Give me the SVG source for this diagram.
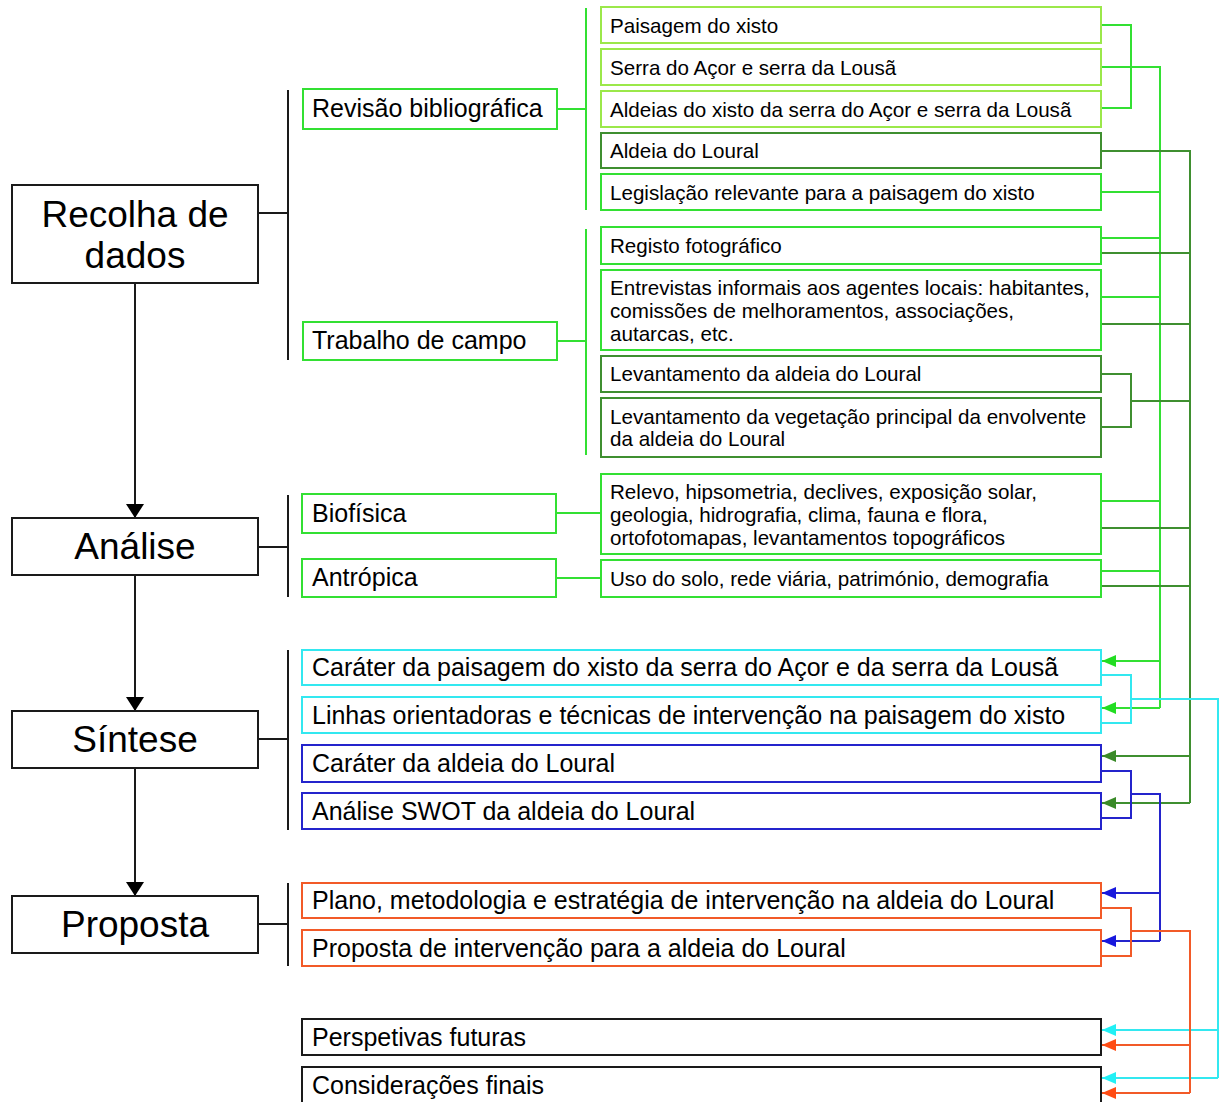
<svg xmlns="http://www.w3.org/2000/svg" width="1220" height="1102" viewBox="0 0 1220 1102">
<style>
text{font-family:"Liberation Sans",Arial,sans-serif;fill:#000}
.big{font-size:37px;text-anchor:middle}
.mid{font-size:25px}
.sm{font-size:20.6px}
rect{fill:#fff;stroke-width:2}
.k{stroke:#1a1a1a}
.lg{stroke:#9be84a}
.g{stroke:#33e033}
.dg{stroke:#3f8f30}
.c{stroke:#33e8f0}
.b{stroke:#2424cc}
.o{stroke:#f25a28}
#connectors path,#connectors line{fill:none;stroke-width:2}
</style>
<defs>
<marker id="ak" viewBox="0 0 14 18" refX="14" refY="9" markerWidth="14" markerHeight="18" markerUnits="userSpaceOnUse" orient="auto"><path d="M0,0L14,9L0,18z" fill="#000"/></marker>
<marker id="ag" viewBox="0 0 14 12" refX="14" refY="6" markerWidth="14" markerHeight="12" markerUnits="userSpaceOnUse" orient="auto"><path d="M0,0L14,6L0,12z" fill="#22dd22"/></marker>
<marker id="adg" viewBox="0 0 14 12" refX="14" refY="6" markerWidth="14" markerHeight="12" markerUnits="userSpaceOnUse" orient="auto"><path d="M0,0L14,6L0,12z" fill="#3a8a28"/></marker>
<marker id="ac" viewBox="0 0 14 12" refX="14" refY="6" markerWidth="14" markerHeight="12" markerUnits="userSpaceOnUse" orient="auto"><path d="M0,0L14,6L0,12z" fill="#22f0f5"/></marker>
<marker id="ab" viewBox="0 0 14 12" refX="14" refY="6" markerWidth="14" markerHeight="12" markerUnits="userSpaceOnUse" orient="auto"><path d="M0,0L14,6L0,12z" fill="#1818dd"/></marker>
<marker id="ao" viewBox="0 0 14 12" refX="14" refY="6" markerWidth="14" markerHeight="12" markerUnits="userSpaceOnUse" orient="auto"><path d="M0,0L14,6L0,12z" fill="#ff4c14"/></marker>
</defs>

<g id="connectors">
<line class="k" x1="135" y1="283" x2="135" y2="518" marker-end="url(#ak)"/>
<line class="k" x1="135" y1="575" x2="135" y2="711" marker-end="url(#ak)"/>
<line class="k" x1="135" y1="768" x2="135" y2="896" marker-end="url(#ak)"/>
<line class="k" x1="258" y1="213" x2="288" y2="213"/>
<line class="k" x1="288" y1="90" x2="288" y2="360"/>
<line class="k" x1="258" y1="547" x2="288" y2="547"/>
<line class="k" x1="288" y1="495" x2="288" y2="597"/>
<line class="k" x1="258" y1="739" x2="288" y2="739"/>
<line class="k" x1="288" y1="650" x2="288" y2="830"/>
<line class="k" x1="258" y1="924" x2="288" y2="924"/>
<line class="k" x1="288" y1="883" x2="288" y2="966"/>
<line class="g" x1="557" y1="109" x2="586" y2="109"/>
<line class="g" x1="586" y1="8" x2="586" y2="210"/>
<line class="g" x1="557" y1="341" x2="586" y2="341"/>
<line class="g" x1="586" y1="229" x2="586" y2="455"/>
<line class="g" x1="556" y1="513" x2="601" y2="513"/>
<line class="g" x1="556" y1="578" x2="601" y2="578"/>
<path class="g" d="M1101,25H1131V108H1101"/>
<path class="g" d="M1101,67H1160V708"/>
<path class="g" d="M1101,192H1160M1101,238H1160M1101,297H1160M1101,501H1160M1101,571H1160"/>
<path class="g" d="M1160,661H1102" marker-end="url(#ag)"/>
<path class="g" d="M1160,708H1102" marker-end="url(#ag)"/>
<path class="dg" d="M1101,151H1190V803"/>
<path class="dg" d="M1101,374H1131V427H1101M1131,401H1190"/>
<path class="dg" d="M1101,253H1190M1101,324H1190M1101,528H1190M1101,586H1190"/>
<path class="dg" d="M1190,756H1102" marker-end="url(#adg)"/>
<path class="dg" d="M1190,803H1102" marker-end="url(#adg)"/>
<path class="c" d="M1101,675H1131V723H1101M1131,699H1218V1078"/>
<path class="c" d="M1218,1030H1102" marker-end="url(#ac)"/>
<path class="c" d="M1218,1078H1102" marker-end="url(#ac)"/>
<path class="b" d="M1101,771H1131V818H1101M1131,794H1160V941"/>
<path class="b" d="M1160,893H1102" marker-end="url(#ab)"/>
<path class="b" d="M1160,941H1102" marker-end="url(#ab)"/>
<path class="o" d="M1101,908H1131V956H1101M1131,931H1190V1093"/>
<path class="o" d="M1190,1045H1102" marker-end="url(#ao)"/>
<path class="o" d="M1190,1093H1102" marker-end="url(#ao)"/>
</g>

<g id="n-recolha"><rect class="k" x="12" y="185" width="246" height="98"/><text class="big" x="135" y="227">Recolha de</text><text class="big" x="135" y="268">dados</text></g>
<g id="n-analise"><rect class="k" x="12" y="518" width="246" height="57"/><text class="big" x="135" y="559">Análise</text></g>
<g id="n-sintese"><rect class="k" x="12" y="711" width="246" height="57"/><text class="big" x="135" y="752">Síntese</text></g>
<g id="n-proposta"><rect class="k" x="12" y="896" width="246" height="57"/><text class="big" x="135" y="937">Proposta</text></g>

<g id="n-revisao"><rect class="g" x="303" y="89" width="254" height="40"/><text class="mid" x="312" y="117">Revisão bibliográfica</text></g>
<g id="n-trabalho"><rect class="g" x="303" y="322" width="254" height="38"/><text class="mid" x="312" y="349">Trabalho de campo</text></g>
<g id="n-biofisica"><rect class="g" x="302" y="494" width="254" height="39"/><text class="mid" x="312" y="522">Biofísica</text></g>
<g id="n-antropica"><rect class="g" x="302" y="559" width="254" height="38"/><text class="mid" x="312" y="586">Antrópica</text></g>

<g id="n-paisagem"><rect class="lg" x="601" y="7" width="500" height="36"/><text class="sm" x="610" y="33">Paisagem do xisto</text></g>
<g id="n-serra"><rect class="lg" x="601" y="49" width="500" height="36"/><text class="sm" x="610" y="75">Serra do Açor e serra da Lousã</text></g>
<g id="n-aldeias"><rect class="lg" x="601" y="91" width="500" height="36"/><text class="sm" x="610" y="117">Aldeias do xisto da serra do Açor e serra da Lousã</text></g>
<g id="n-loural"><rect class="dg" x="601" y="133" width="500" height="35"/><text class="sm" x="610" y="158">Aldeia do Loural</text></g>
<g id="n-legislacao"><rect class="g" x="601" y="174" width="500" height="36"/><text class="sm" x="610" y="200">Legislação relevante para a paisagem do xisto</text></g>
<g id="n-registo"><rect class="g" x="601" y="227" width="500" height="37"/><text class="sm" x="610" y="253">Registo fotográfico</text></g>
<g id="n-entrevistas"><rect class="g" x="601" y="270" width="500" height="80"/><text class="sm" x="610" y="295">Entrevistas informais aos agentes locais: habitantes,</text><text class="sm" x="610" y="318">comissões de melhoramentos, associações,</text><text class="sm" x="610" y="341">autarcas, etc.</text></g>
<g id="n-levaldeia"><rect class="dg" x="601" y="356" width="500" height="36"/><text class="sm" x="610" y="381">Levantamento da aldeia do Loural</text></g>
<g id="n-levveg"><rect class="dg" x="601" y="398" width="500" height="59"/><text class="sm" x="610" y="424">Levantamento da vegetação principal da envolvente</text><text class="sm" x="610" y="446">da aldeia do Loural</text></g>
<g id="n-relevo"><rect class="g" x="601" y="474" width="500" height="80"/><text class="sm" x="610" y="499">Relevo, hipsometria, declives, exposição solar,</text><text class="sm" x="610" y="522">geologia, hidrografia, clima, fauna e flora,</text><text class="sm" x="610" y="545">ortofotomapas, levantamentos topográficos</text></g>
<g id="n-uso"><rect class="g" x="601" y="560" width="500" height="37"/><text class="sm" x="610" y="586">Uso do solo, rede viária, património, demografia</text></g>

<g id="n-carpais"><rect class="c" x="302" y="650" width="799" height="35"/><text class="mid" x="312" y="676">Caráter da paisagem do xisto da serra do Açor e da serra da Lousã</text></g>
<g id="n-linhas"><rect class="c" x="302" y="697" width="799" height="36"/><text class="mid" x="312" y="724">Linhas orientadoras e técnicas de intervenção na paisagem do xisto</text></g>
<g id="n-caraldeia"><rect class="b" x="302" y="745" width="799" height="37"/><text class="mid" x="312" y="772">Caráter da aldeia do Loural</text></g>
<g id="n-swot"><rect class="b" x="302" y="793" width="799" height="36"/><text class="mid" x="312" y="820">Análise SWOT da aldeia do Loural</text></g>
<g id="n-plano"><rect class="o" x="302" y="883" width="799" height="35"/><text class="mid" x="312" y="909">Plano, metodologia e estratégia de intervenção na aldeia do Loural</text></g>
<g id="n-propint"><rect class="o" x="302" y="930" width="799" height="36"/><text class="mid" x="312" y="957">Proposta de intervenção para a aldeia do Loural</text></g>
<g id="n-perspetivas"><rect class="k" x="302" y="1019" width="799" height="36"/><text class="mid" x="312" y="1046">Perspetivas futuras</text></g>
<g id="n-consideracoes"><rect class="k" x="302" y="1067" width="799" height="36"/><text class="mid" x="312" y="1094">Considerações finais</text></g>
</svg>
